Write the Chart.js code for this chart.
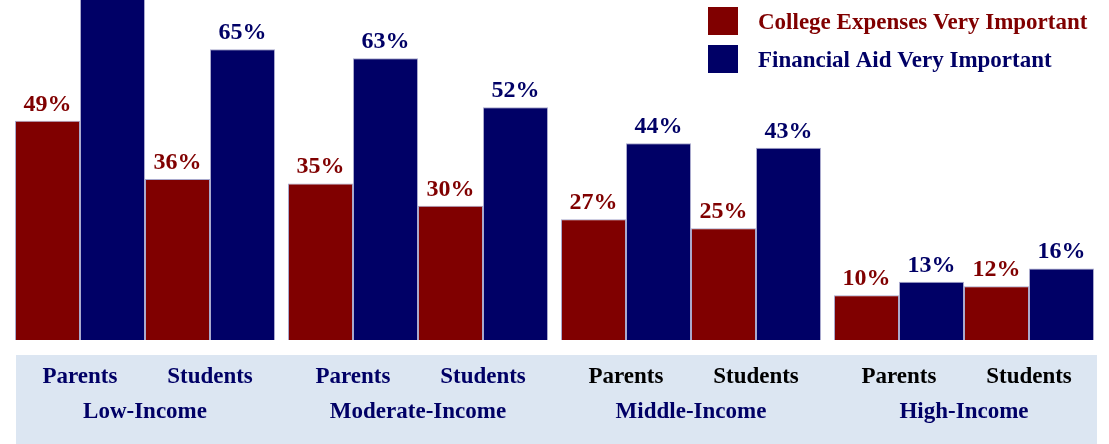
<!DOCTYPE html>
<html>
<head>
<meta charset="utf-8">
<script src="https://cdn.jsdelivr.net/npm/chart.js@4.4.1/dist/chart.umd.min.js"></script>
<style>
  html, body { margin: 0; padding: 0; background: #fff; }
  #wrap { position: relative; width: 1109px; height: 444px; }
</style>
</head>
<body>
<div id="wrap"><canvas id="incomeChart" width="1109" height="444"></canvas></div>
<script>
// income groups along the axis
const incomeGroups = ['Low-Income', 'Moderate-Income', 'Middle-Income', 'High-Income'];
const respondents = ['Parents', 'Students'];

// percent saying each factor is very important
const parentsExpenses = [49, 35, 27, 10];
const parentsAid = [78, 63, 44, 13]; // first bar runs off the top of the picture
const studentsExpenses = [36, 30, 25, 12];
const studentsAid = [65, 52, 43, 16];

const seriesNames = ['College Expenses Very Important', 'Financial Aid Very Important'];

const RED = '#800000';
const NAVY = '#000066';
const FONT = '"Liberation Serif", "Times New Roman", serif';
const subLabelColors = [NAVY, NAVY, '#000000', '#000000'];

const makeSet = (label, data, color) => ({
  label: label,
  data: data,
  backgroundColor: color,
  borderColor: 'rgba(160,160,200,0.9)',
  borderWidth: 1,
});

// draws value labels, the band of category labels and the legend
const decorations = {
  id: 'decorations',
  beforeDraw(chart) {
    const ctx = chart.ctx;
    ctx.save();
    ctx.fillStyle = '#dce6f2';
    ctx.fillRect(16, 355, 1081, 89);
    ctx.restore();
  },
  afterDatasetsDraw(chart) {
    const ctx = chart.ctx;
    ctx.save();
    ctx.textAlign = 'center';
    ctx.textBaseline = 'alphabetic';
    ctx.font = 'bold 24px ' + FONT;
    chart.data.datasets.forEach((ds, d) => {
      const meta = chart.getDatasetMeta(d);
      meta.data.forEach((bar, i) => {
        ctx.fillStyle = ds.backgroundColor;
        ctx.fillText(ds.data[i] + '%', bar.x, bar.y - 10);
      });
    });

    // category labels
    const m0 = chart.getDatasetMeta(0), m1 = chart.getDatasetMeta(1);
    const m2 = chart.getDatasetMeta(2), m3 = chart.getDatasetMeta(3);
    const xScale = chart.scales.x;
    ctx.font = 'bold 23px ' + FONT;
    incomeGroups.forEach((g, i) => {
      const pX = (m0.data[i].x + m1.data[i].x) / 2;
      const sX = (m2.data[i].x + m3.data[i].x) / 2;
      ctx.fillStyle = subLabelColors[i];
      ctx.fillText(respondents[0], pX, 383);
      ctx.fillText(respondents[1], sX, 383);
      ctx.fillStyle = NAVY;
      ctx.fillText(g, xScale.getPixelForValue(i), 418);
    });

    // legend
    const colors = [RED, NAVY];
    ctx.textAlign = 'left';
    ctx.font = 'bold 23px ' + FONT;
    seriesNames.forEach((name, k) => {
      const y = 7 + k * 38;
      ctx.fillStyle = colors[k];
      ctx.fillRect(708, y, 30, 28);
      ctx.fillText(name, 758, y + 22);
    });
    ctx.restore();
  }
};

new Chart(document.getElementById('incomeChart'), {
  type: 'bar',
  data: {
    labels: incomeGroups,
    datasets: [
      makeSet('Parents - ' + seriesNames[0], parentsExpenses, RED),
      makeSet('Parents - ' + seriesNames[1], parentsAid, NAVY),
      makeSet('Students - ' + seriesNames[0], studentsExpenses, RED),
      makeSet('Students - ' + seriesNames[1], studentsAid, NAVY),
    ]
  },
  options: {
    responsive: false,
    animation: false,
    layout: { padding: { left: 8.5, right: 8.5, top: 0, bottom: 104 } },
    datasets: { bar: { categoryPercentage: 260 / 273, barPercentage: 1 } },
    plugins: { legend: { display: false }, tooltip: { enabled: false } },
    scales: {
      x: { display: false },
      y: { display: false, min: 0, max: 76 }
    }
  },
  plugins: [decorations]
});
</script>
</body>
</html>
